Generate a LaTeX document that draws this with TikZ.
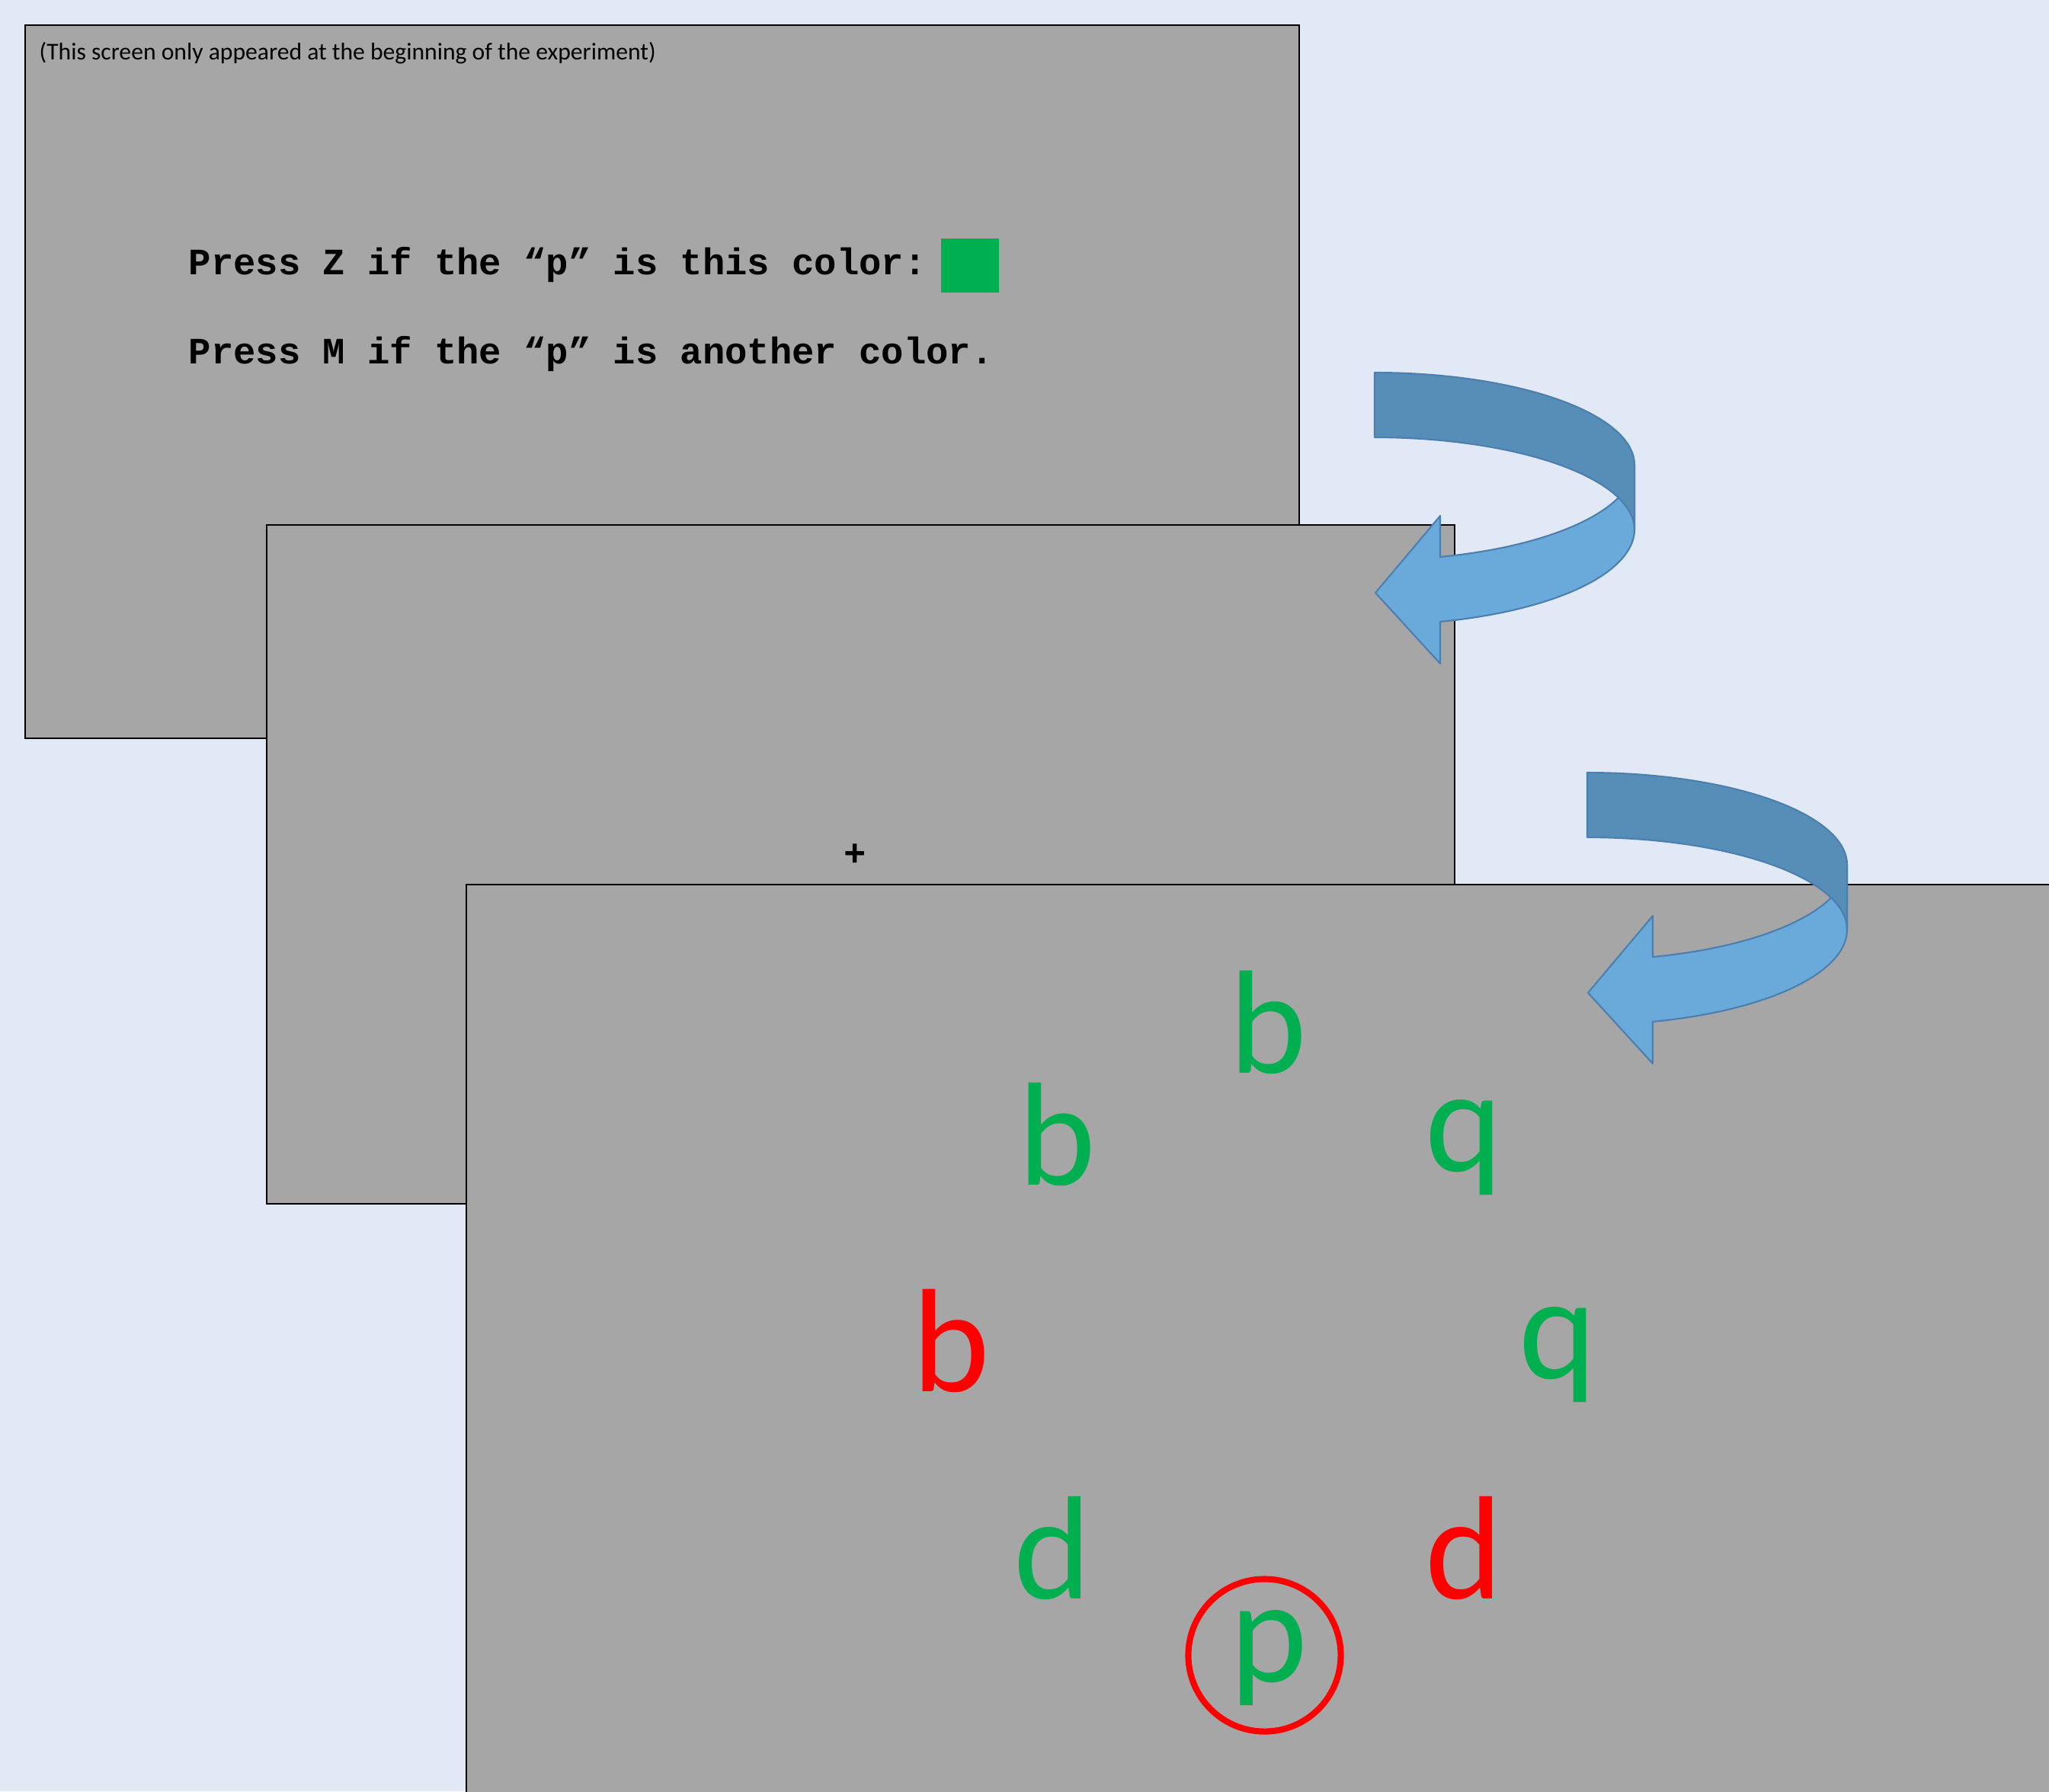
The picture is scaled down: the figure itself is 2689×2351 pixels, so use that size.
\documentclass[tikz,border=0pt]{standalone}
\usepackage{fontspec}
\setmainfont{Carlito}
\newfontfamily\instrfont{Liberation Mono}
\definecolor{pagebg}{HTML}{E1E9F6}
\definecolor{panelgray}{HTML}{A6A6A6}
\definecolor{pgreen}{HTML}{00B050}
\definecolor{pred}{HTML}{FF0000}
\definecolor{arrowlight}{HTML}{6AAADB}
\definecolor{arrowdark}{HTML}{568EB8}
\definecolor{arrowedge}{HTML}{4A7FAE}
\newcommand\turnarrow[1]{%
  \begin{scope}[shift={#1}]
    \draw[arrowfront] plot[domain=0:75.4,samples=40] ({341*cos(\x)},{121+125*sin(\x)})
      -- (86,188) -- (1,289) -- (86,382)
      -- plot[domain=75.4:0,samples=40] ({341*cos(\x)},{206+125*sin(\x)}) -- cycle;
    \draw[arrowback] plot[domain=90:0,samples=40] ({341*cos(\x)},{121-121*sin(\x)})
      -- plot[domain=0:90,samples=40] ({341*cos(\x)},{206-121*sin(\x)}) -- cycle;
  \end{scope}}
\begin{document}
\begin{tikzpicture}[x=0.01cm,y=-0.01cm,
  panel/.style={fill=panelgray,draw=black,line width=0.6pt},
  arrowfront/.style={fill=arrowlight,draw=arrowedge,line width=0.6pt,line join=round},
  arrowback/.style={fill=arrowdark,draw=arrowedge,line width=0.6pt,line join=round},
  instr/.style={anchor=base west,inner sep=0pt,font=\instrfont\bfseries\fontsize{13.9}{16}\selectfont},
  letter/.style={anchor=base,inner sep=0pt,font=\fontsize{55}{60}\selectfont},
  gl/.style={letter,text=pgreen},
  rl/.style={letter,text=pred}]
\useasboundingbox (0,0) rectangle (2689,2351);
\clip (0,0) rectangle (2689,2351);
\fill[pagebg] (0,0) rectangle (2689,2351);
% screen 1
\draw[panel] (33,33) rectangle (1705,969);
\node[anchor=base west,inner sep=0pt,font=\fontsize{9}{11}\selectfont] (note) at (51,78)
  {(This screen only appeared at the beginning of the experiment)};
\node[instr] (line1) at (247,360) {Press Z if the “p” is this color:};
\node[instr] (line2) at (247,477) {Press M if the “p” is another color.};
\node[fill=pgreen,inner sep=0pt,minimum width=0.76cm,minimum height=0.71cm] (swatch) at (1273,348.5) {};
% screen 2
\draw[panel] (350,689) rectangle (1909,1580);
\node[inner sep=0pt,font=\instrfont\bfseries\fontsize{13.9}{16}\selectfont] (fix) at (1122,1122) {+};
\turnarrow{(1804,489)}
% screen 3
\draw[panel] (612,1161) rectangle (2720,2380);
\turnarrow{(2083,1014)}
\node[gl] (b1) at (1664,1408) {b};
\node[gl] (b2) at (1387,1555) {b};
\node[gl] (q1) at (1921,1537) {q};
\node[rl] (b3) at (1248,1826) {b};
\node[gl] (q2) at (2044,1809) {q};
\node[gl] (d1) at (1381,2098) {d};
\node[rl] (d2) at (1921,2098) {d};
\node[gl] (p1) at (1665,2207) {p};
\node[circle,draw=pred,line width=2.3pt,minimum size=2cm,inner sep=0pt] (ring) at (1659.5,2172.5) {};
\end{tikzpicture}
\end{document}
